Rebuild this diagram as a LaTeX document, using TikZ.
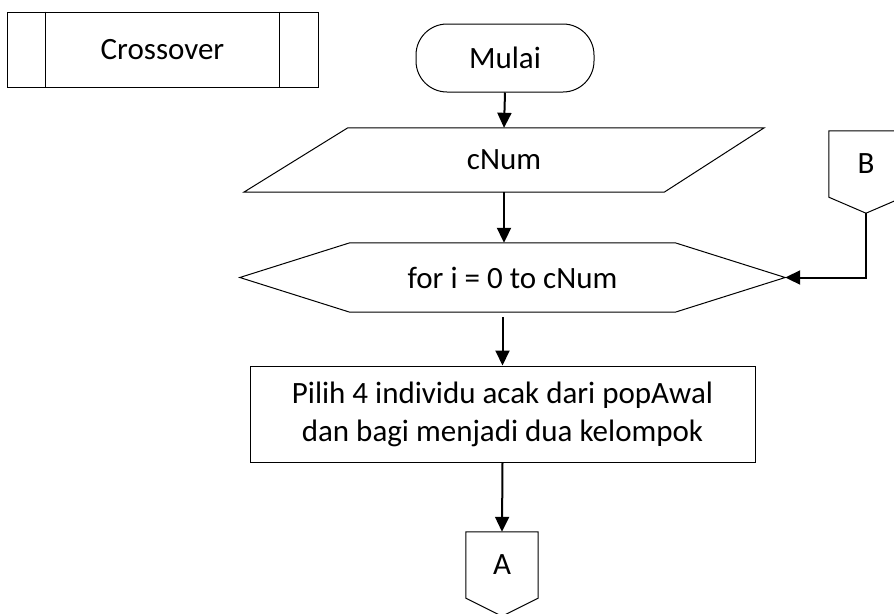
\documentclass[tikz,border=0pt]{standalone}
\usepackage{fontspec}
\setmainfont{Carlito}
\usetikzlibrary{arrows.meta,calc}
\begin{document}
\begin{tikzpicture}[x=1pt,y=-1pt,
  lbl/.style={font=\fontsize{31}{38}\selectfont, inner sep=0pt, align=center},
  outline/.style={draw=black, line width=1pt},
  flow/.style={draw=black, line width=2pt, -{Triangle[length=15pt,width=14pt]}},
  link/.style={draw=black, line width=2pt}
]
\useasboundingbox (0,0) rectangle (894,613);

% predefined process: Crossover
\node[lbl, outline, minimum width=311pt, minimum height=75pt] (xo) at (162.5,49.5) {Crossover};
\draw[outline] ($(xo.north west)+(39,0)$) -- ($(xo.south west)+(39,0)$);
\draw[outline] ($(xo.north east)+(-39,0)$) -- ($(xo.south east)+(-39,0)$);

% terminator
\node[lbl, outline, rounded corners=31pt, minimum width=178pt, minimum height=68pt] (start) at (505,58) {Mulai};

% input: cNum (parallelogram)
\node[lbl, minimum width=520pt, minimum height=64pt] (in) at (504,160) {cNum};
\draw[outline] ($(in.north west)+(104,0)$) -- (in.north east)
  -- ($(in.south east)+(-100,0)$) -- (in.south west) -- cycle;

% loop (hexagon)
\node[lbl, minimum width=545pt, minimum height=69pt] (loop) at (512.5,277.5) {for i = 0 to cNum};
\draw[outline] (loop.west) -- ($(loop.north west)+(110,0)$) -- ($(loop.north east)+(-110,0)$)
  -- (loop.east) -- ($(loop.south east)+(-110,0)$) -- ($(loop.south west)+(110,0)$) -- cycle;

% process
\node[lbl, outline, minimum width=505pt, minimum height=96pt] (proc) at (502.5,414)
  {Pilih 4 individu acak dari popAwal\\dan bagi menjadi dua kelompok};

% off-page connector A
\node[lbl, minimum width=72pt, minimum height=66pt] (offA) at (502,565) {A};
\draw[outline] (offA.north west) -- (offA.north east) -- (offA.south east)
  -- ($(offA.south)+(0,18)$) -- (offA.south west) -- cycle;

% off-page connector B
\node[lbl, minimum width=74pt, minimum height=66pt] (offB) at (866,164) {B};
\coordinate (btip) at ($(offB.south)+(0,16)$);
\draw[outline] (offB.north west) -- (offB.north east) -- (offB.south east)
  -- (btip) -- (offB.south west) -- cycle;

% connectors
\draw[flow] (start.south) -- (in.north);
\draw[flow] (in.south) -- (in.south |- loop.north);
\draw[flow, shorten <=5pt] (proc.north |- loop.south) -- (proc.north);
\draw[flow] (proc.south) -- (offA.north);
\draw[flow] (btip) |- (loop.east);
\end{tikzpicture}
\end{document}
